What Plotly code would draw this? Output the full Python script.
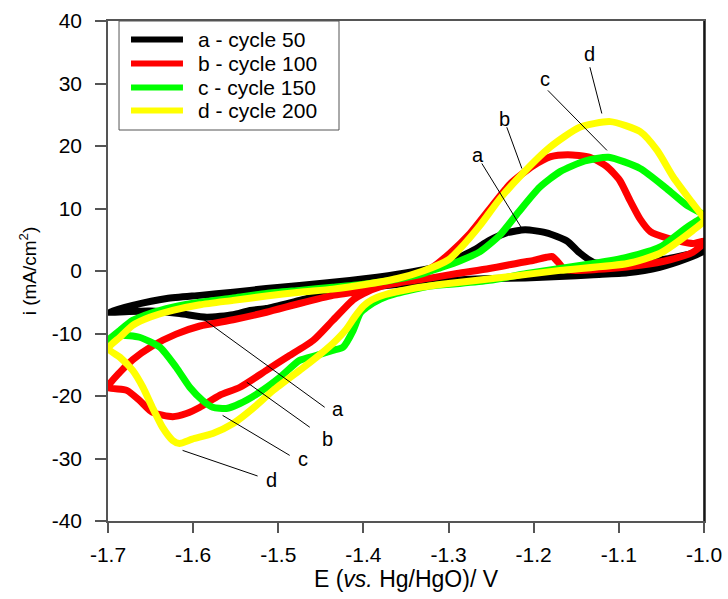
import plotly.graph_objects as go

# ---------------- data ----------------
# curve a - cycle 50 (black)
a_up_E = [-1.700, -1.671, -1.631, -1.592, -1.553, -1.514, -1.475, -1.416, -1.36, -1.31, -1.29, -1.271,
          -1.252, -1.232, -1.210, -1.185, -1.161, -1.146, -1.130, -1.099, -1.05, -1.02, -1.000]
a_up_i = [-6.6, -5.5, -4.4, -3.9, -3.4, -2.8, -2.3, -1.5, -0.5, 0.8, 2.0, 3.3,
          4.9, 6.1, 6.6, 6.1, 4.8, 2.9, 1.4, 1.1, 1.8, 2.6, 3.4]
a_dn_E = [-1.000, -1.02, -1.052, -1.09, -1.13, -1.17, -1.21, -1.25, -1.30, -1.35, -1.41, -1.436,
          -1.475, -1.514, -1.533, -1.553, -1.584, -1.616, -1.651, -1.68, -1.700]
a_dn_i = [3.2, 2.0, 0.6, -0.3, -0.6, -0.9, -1.1, -1.2, -1.5, -2.0, -2.9, -3.4,
          -4.7, -6.0, -6.3, -7.0, -7.4, -6.8, -6.4, -6.5, -6.6]

# curve b - cycle 100 (red)
b_up_E = [-1.700, -1.686, -1.671, -1.648, -1.620, -1.592, -1.553, -1.514, -1.475, -1.436, -1.412, -1.38,
          -1.35, -1.32, -1.299, -1.275, -1.252, -1.228, -1.201, -1.18, -1.160, -1.134, -1.114, -1.099,
          -1.087, -1.075, -1.063, -1.044, -1.013, -1.000]
b_up_i = [-18.6, -16.2, -14.2, -12.0, -10.1, -8.8, -7.8, -6.6, -5.2, -3.9, -3.4, -2.4,
          -1.2, 0.5, 2.8, 6.0, 9.9, 13.9, 16.8, 18.3, 18.6, 18.2, 16.7, 14.5,
          11.3, 8.3, 6.3, 5.3, 4.4, 4.8]
b_dn_E = [-1.000, -1.013, -1.04, -1.075, -1.11, -1.154, -1.165, -1.172, -1.178, -1.185, -1.200, -1.213,
          -1.252, -1.29, -1.32, -1.35, -1.38, -1.40, -1.412, -1.436, -1.459, -1.490, -1.514, -1.545,
          -1.569, -1.592, -1.608, -1.624, -1.648, -1.663, -1.678, -1.700]
b_dn_i = [4.5, 3.0, 1.8, 0.9, 0.4, 0.1, 0.4, 1.5, 2.3, 2.2, 1.7, 1.4,
          0.4, -0.4, -1.1, -1.7, -2.5, -3.6, -4.6, -7.9, -11.1, -13.8, -15.9, -18.6,
          -19.9, -21.8, -22.8, -23.3, -22.6, -20.7, -19.1, -18.6]

# curve c - cycle 150 (green)
c_up_E = [-1.700, -1.686, -1.671, -1.651, -1.624, -1.592, -1.553, -1.514, -1.475, -1.436, -1.40, -1.36,
          -1.33, -1.31, -1.287, -1.263, -1.240, -1.218, -1.193, -1.169, -1.140, -1.112, -1.075, -1.044,
          -1.020, -1.000]
c_up_i = [-11.1, -9.5, -7.9, -6.8, -5.8, -5.0, -4.3, -3.6, -3.1, -2.6, -2.1, -1.3,
          -0.4, 0.5, 1.6, 3.1, 5.7, 9.4, 13.4, 15.9, 17.6, 18.2, 16.4, 13.2,
          10.5, 9.0]
c_dn_E = [-1.000, -1.020, -1.052, -1.090, -1.130, -1.208, -1.252, -1.287, -1.322, -1.361, -1.380, -1.396,
          -1.404, -1.412, -1.424, -1.436, -1.455, -1.475, -1.498, -1.522, -1.545, -1.561, -1.577, -1.589,
          -1.604, -1.620, -1.639, -1.663, -1.686, -1.700]
c_dn_i = [8.8, 7.0, 3.8, 2.2, 1.2, -0.4, -1.5, -2.0, -2.4, -3.6, -4.5, -5.8,
          -6.8, -9.5, -12.2, -12.7, -13.5, -14.3, -17.0, -19.4, -21.2, -22.0, -21.8, -20.7,
          -18.6, -15.4, -12.2, -10.6, -10.3, -11.1]

# curve d - cycle 200 (yellow)
d_up_E = [-1.700, -1.686, -1.671, -1.651, -1.624, -1.592, -1.553, -1.514, -1.475, -1.436, -1.40, -1.36,
          -1.33, -1.30, -1.287, -1.263, -1.240, -1.213, -1.181, -1.146, -1.110, -1.075, -1.055, -1.036,
          -1.016, -1.000]
d_up_i = [-12.4, -10.6, -8.7, -7.4, -6.3, -5.4, -4.7, -4.0, -3.4, -2.9, -2.2, -1.2,
          0.0, 1.8, 3.5, 7.3, 11.5, 15.6, 19.8, 23.0, 23.9, 22.3, 19.3, 15.0,
          11.3, 8.4]
d_dn_E = [-1.000, -1.013, -1.052, -1.090, -1.169, -1.248, -1.300, -1.342, -1.375, -1.390, -1.400, -1.410,
          -1.420, -1.436, -1.455, -1.475, -1.506, -1.530, -1.553, -1.577, -1.601, -1.616, -1.624, -1.636,
          -1.648, -1.659, -1.671, -1.686, -1.700]
d_dn_i = [8.0, 6.5, 2.8, 1.2, 0.1, -1.2, -2.0, -2.8, -3.8, -4.6, -5.6, -7.3,
          -9.3, -11.6, -13.8, -15.9, -19.1, -22.0, -24.4, -26.0, -26.9, -27.6, -27.1, -25.0,
          -21.8, -18.6, -15.9, -13.8, -12.4]

series_names = ["a - cycle 50", "b - cycle 100", "c - cycle 150", "d - cycle 200"]
series_colors = ["#000000", "#ff0000", "#00ff00", "#ffff00"]

x_ticks = [-1.7, -1.6, -1.5, -1.4, -1.3, -1.2, -1.1, -1.0]
x_ticktext = ["-1.7", "-1.6", "-1.5", "-1.4", "-1.3", "-1.2", "-1.1", "-1.0"]
y_ticks = [-40, -30, -20, -10, 0, 10, 20, 30, 40]
y_ticktext = ["-40", "-30", "-20", "-10", "0", "10", "20", "30", "40"]

# label positions (data coords) and leader lines
labels = ["a", "b", "c", "d"]
top_label_xy = [(-1.2656, 18.5), (-1.2339, 24.4), (-1.187, 30.8), (-1.134, 34.8)]
top_lines = [((-1.2609, 17.2), (-1.2139, 6.8)), ((-1.2316, 23.0), (-1.2139, 16.4)),
             ((-1.1834, 28.9), (-1.114, 19.3)), ((-1.134, 32.6), (-1.120, 25.2))]
bot_label_xy = [(-1.4302, -22.0), (-1.442, -26.8), (-1.471, -30.0), (-1.508, -33.5)]
bot_lines = [((-1.589, -7.6), (-1.4455, -21.8)), ((-1.537, -17.8), (-1.463, -25.0)),
             ((-1.5654, -23.1), (-1.4866, -29.5)), ((-1.6124, -28.7), (-1.5243, -32.8))]

# ---------------- figure ----------------
FONT = "Arial, Liberation Sans, sans-serif"
fig = go.Figure()
curves = [(a_up_E, a_up_i, a_dn_E, a_dn_i), (b_up_E, b_up_i, b_dn_E, b_dn_i),
          (c_up_E, c_up_i, c_dn_E, c_dn_i), (d_up_E, d_up_i, d_dn_E, d_dn_i)]
for (ue, ui, de, di), name, col in zip(curves, series_names, series_colors):
    fig.add_trace(go.Scatter(x=ue + de, y=ui + di, mode="lines", name=name, showlegend=False,
                             line=dict(color=col, width=7, shape="spline", smoothing=0.6)))

shapes = []
annotations = []
for lab, (tx, ty), ((x0, y0), (x1, y1)) in zip(labels, top_label_xy, top_lines):
    annotations.append(dict(x=tx, y=ty, text=lab, showarrow=False, xref="x", yref="y",
                            font=dict(size=20, color="black", family=FONT)))
    shapes.append(dict(type="line", xref="x", yref="y", x0=x0, y0=y0, x1=x1, y1=y1,
                       line=dict(color="black", width=1)))
for lab, (tx, ty), ((x0, y0), (x1, y1)) in zip(labels, bot_label_xy, bot_lines):
    annotations.append(dict(x=tx, y=ty, text=lab, showarrow=False, xref="x", yref="y",
                            font=dict(size=20, color="black", family=FONT)))
    shapes.append(dict(type="line", xref="x", yref="y", x0=x0, y0=y0, x1=x1, y1=y1,
                       line=dict(color="black", width=1)))
# darker right frame edge as in the reference
shapes.append(dict(type="line", xref="paper", yref="paper", x0=1, x1=1, y0=0, y1=1,
                   line=dict(color="black", width=1.5)))

# legend box drawn in paper coordinates (boxed key, as in the reference)
shapes.append(dict(type="rect", xref="paper", yref="paper", x0=0.0185, x1=0.3876,
                   y0=0.782, y1=1.0, line=dict(color="#555555", width=1),
                   fillcolor="white", layer="above"))
leg_rows = [0.963, 0.915, 0.867, 0.821]
for name, col, yy in zip(series_names, series_colors, leg_rows):
    shapes.append(dict(type="line", xref="paper", yref="paper", x0=0.0386, x1=0.1258,
                       y0=yy, y1=yy, line=dict(color=col, width=6), layer="above"))
    annotations.append(dict(x=0.1477, y=yy, xref="paper", yref="paper", text=name,
                            showarrow=False, xanchor="left", yanchor="middle",
                            font=dict(size=21, color="black", family=FONT)))

fig.update_layout(
    width=728, height=599,
    margin=dict(l=108, r=24, t=21, b=78),
    paper_bgcolor="white", plot_bgcolor="white",
    font=dict(family=FONT, size=21, color="black"),
    showlegend=False,
    shapes=shapes,
    annotations=annotations,
    xaxis=dict(range=[-1.7, -1.0], tickvals=x_ticks, ticktext=x_ticktext,
               ticks="outside", ticklen=10, tickcolor="#555555", tickwidth=1.5,
               ticklabelstandoff=4, tickfont=dict(size=21, family=FONT),
               automargin="bottom",
               showline=True, linecolor="#555555", linewidth=1.5, mirror=True,
               showgrid=False, zeroline=False,
               title=dict(text="E (<i>vs.</i> Hg/HgO)/ V", standoff=4,
                          font=dict(size=23, family=FONT))),
    yaxis=dict(range=[-40, 40], tickvals=y_ticks, ticktext=y_ticktext,
               ticks="outside", ticklen=11, tickcolor="#555555", tickwidth=1.5,
               ticklabelstandoff=9, tickfont=dict(size=21, family=FONT),
               automargin="left",
               showline=True, linecolor="#555555", linewidth=1.5, mirror=True,
               showgrid=False, zeroline=False,
               title=dict(text="i (mA/cm<sup>2</sup>)", standoff=10,
                          font=dict(size=19, family=FONT))),
)

fig.write_html("out.html")
